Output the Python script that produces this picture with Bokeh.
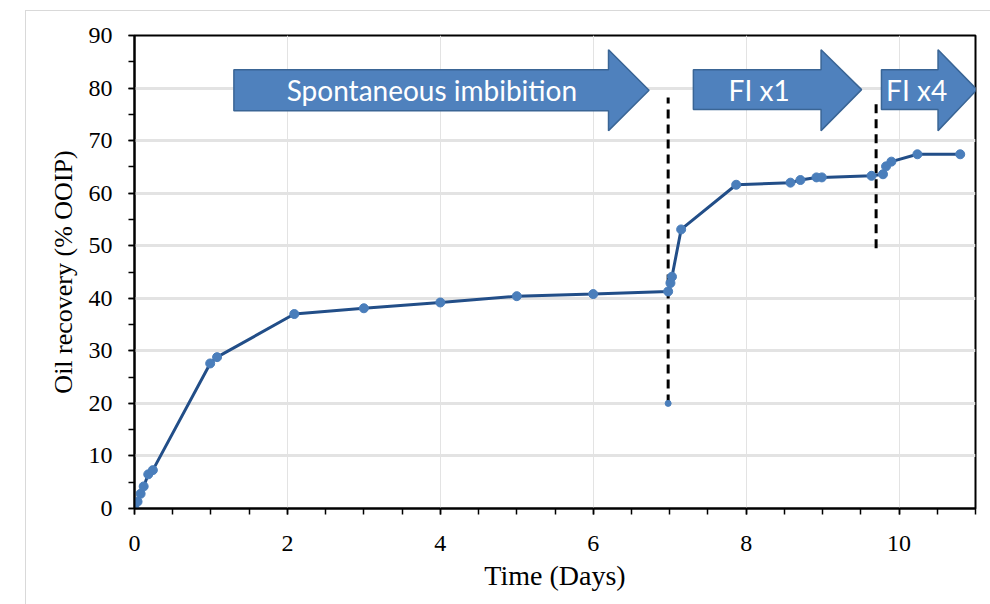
from bokeh.plotting import figure
from bokeh.models import Range1d, ColumnDataSource, LabelSet, SingleIntervalTicker
from bokeh.embed import file_html
from bokeh.resources import INLINE
from bokeh.core.properties import value

# ---- data ----
time_days = [0.0, 0.04, 0.08, 0.12, 0.18, 0.24, 0.99, 1.08, 2.09, 3.0, 4.0, 5.0, 6.0,
             6.98, 7.01, 7.03, 7.15, 7.87, 8.58, 8.71, 8.92, 8.99, 9.64, 9.79, 9.83,
             9.90, 10.24, 10.80]
oil_recovery = [0.0, 1.3, 2.8, 4.2, 6.5, 7.3, 27.6, 28.8, 37.0, 38.1, 39.2, 40.4, 40.8,
                41.3, 42.9, 44.1, 53.1, 61.6, 62.0, 62.5, 63.0, 63.0, 63.3, 63.6, 65.1,
                66.0, 67.4, 67.4]
marker_x = [6.98]
marker_y = [20.0]

dash1_x = [6.98, 6.98]
dash1_y = [20.0, 78.2]
dash2_x = [9.70, 9.70]
dash2_y = [49.5, 78.0]

# arrows: (body_left, head_base, tip, body_bottom, body_top, head_bottom, head_top)
arrows = [
    (1.30, 6.20, 6.73, 75.7, 83.5, 71.9, 87.3),
    (7.31, 8.98, 9.51, 75.9, 83.5, 71.9, 87.3),
    (9.77, 10.51, 11.02, 75.9, 83.5, 71.9, 87.3),
]
arrow_labels = ["Spontaneous imbibition", "FI x1", "FI x4"]
label_x = [3.89, 8.17, 10.23]
label_y = [79.6, 79.6, 79.6]

x_ticks = [0, 2, 4, 6, 8, 10]
y_ticks = [0, 10, 20, 30, 40, 50, 60, 70, 80, 90]

p = figure(width=970, height=600, output_backend="svg", toolbar_location=None,
           x_range=Range1d(0, 11), y_range=Range1d(0, 90),
           min_border_left=108, min_border_right=21, min_border_top=24, min_border_bottom=103,
           margin=(10, 0, 0, 25), styles={"border": "1px solid #d9d9d9"})

p.outline_line_color = "black"
p.outline_line_width = 2
p.background_fill_color = "white"
p.border_fill_color = "white"

# grid
p.xgrid.ticker = x_ticks
p.ygrid.ticker = y_ticks
p.xgrid.grid_line_color = "#e3e3e3"
p.xgrid.grid_line_width = 1
p.ygrid.grid_line_color = "#e3e3e3"
p.ygrid.grid_line_width = 3

# axes
for ax in (p.xaxis[0], p.yaxis[0]):
    ax.axis_line_color = "black"
    ax.axis_line_width = 2
    ax.major_tick_line_color = "black"
    ax.minor_tick_line_color = "black"
    ax.major_tick_line_width = 1.5
    ax.minor_tick_line_width = 1.5
    ax.major_tick_in = 0
    ax.major_tick_out = 6
    ax.minor_tick_in = 0
    ax.minor_tick_out = 6
    ax.major_label_text_font = "Liberation Serif"
    ax.major_label_text_font_size = "24px"
    ax.major_label_text_color = "black"
    ax.axis_label_text_font = "Liberation Serif"
    ax.axis_label_text_font_style = "normal"
    ax.axis_label_text_color = "black"

p.xaxis[0].axis_label_text_font_size = "28px"
p.yaxis[0].axis_label_text_font_size = "26px"
p.xaxis[0].ticker = SingleIntervalTicker(interval=2, num_minor_ticks=4)
p.yaxis[0].ticker = SingleIntervalTicker(interval=10, num_minor_ticks=2)
p.xaxis.axis_label = "Time (Days)"
p.yaxis.axis_label = "Oil recovery (% OOIP)"
p.xaxis.major_label_standoff = 21
p.yaxis.major_label_standoff = 16
p.xaxis.axis_label_standoff = 6
p.yaxis.axis_label_standoff = 8

# arrows
xs, ys = [], []
for (bl, hb, tip, bb, bt, hbot, htop) in arrows:
    mid = (bb + bt) / 2
    xs.append([bl, hb, hb, tip, hb, hb, bl])
    ys.append([bt, bt, htop, mid, hbot, bb, bb])
p.patches(xs, ys, fill_color="#4f81bd", line_color="#3a6595", line_width=1.5)

lab_src = ColumnDataSource(dict(x=label_x, y=label_y, t=arrow_labels))
p.add_layout(LabelSet(x="x", y="y", text="t", source=lab_src, text_align="center",
                      text_baseline="middle", text_color="white",
                      text_font=value("Lato"), text_font_size="28px"))

# dashed lines
p.line(dash1_x, dash1_y, line_color="black", line_width=3, line_dash="9 6")
p.line(dash2_x, dash2_y, line_color="black", line_width=3, line_dash="9 6")

# data
p.line(time_days, oil_recovery, line_color="#224e88", line_width=3)
p.scatter(time_days, oil_recovery, size=9, fill_color="#4a7ebb", line_color="#4a7ebb")
p.scatter(marker_x, marker_y, size=6, fill_color="#4a7ebb", line_color="#4a7ebb")

open("out.html", "w").write(file_html(p, INLINE))
